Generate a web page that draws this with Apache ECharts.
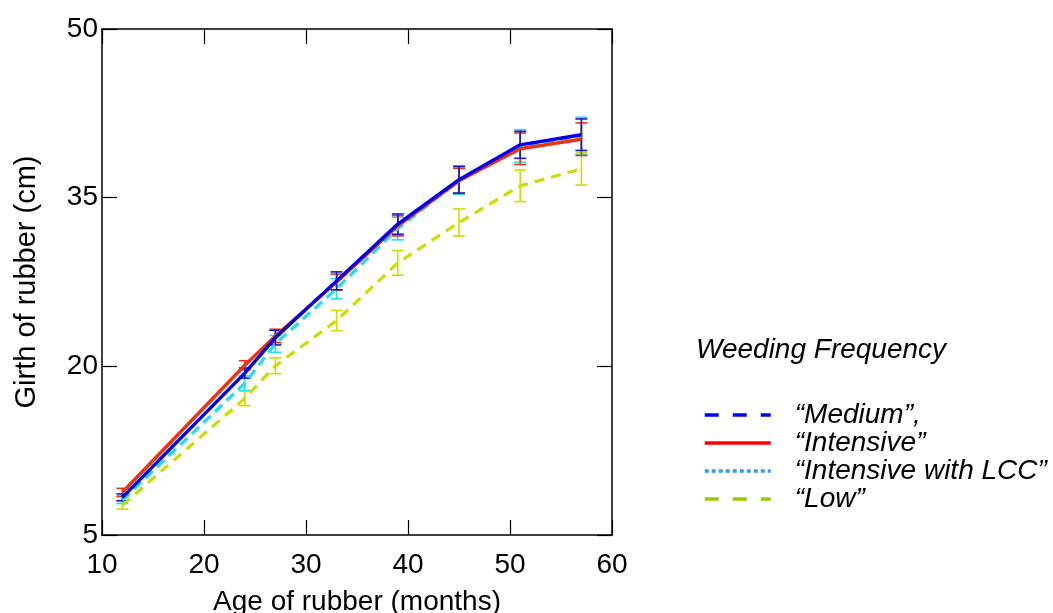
<!DOCTYPE html>
<html>
<head>
<meta charset="utf-8">
<script src="https://cdn.jsdelivr.net/npm/echarts@6/dist/echarts.min.js"></script>
<style>html,body{margin:0;padding:0;background:#fff}#c{width:1053px;height:613px}</style>
</head>
<body>
<div id="c"></div>
<script>
// ---- data ----
var ages = [12, 24, 27, 33, 39, 45, 51, 57];
var mediumVals = [8.35, 19.4, 22.55, 27.6, 32.65, 36.6, 39.7, 40.6];
var mediumErr  = [0.3, 0.45, 0.65, 0.8, 0.9, 1.2, 1.2, 1.4];
var intensiveVals = [8.8, 20.1, 22.7, 27.5, 32.5, 36.5, 39.35, 40.2];
var intensiveErr  = [0.35, 0.4, 0.6, 0.7, 0.9, 1.1, 1.4, 1.45];
var lccVals = [8.1, 18.5, 22.0, 26.9, 32.25, 36.5, 39.6, 40.5];
var lccErr  = [0.3, 0.65, 0.75, 0.9, 1.0, 1.2, 1.45, 1.65];
var lowVals = [7.65, 17.15, 20.05, 24.07, 29.2, 32.8, 36.05, 37.57];
var lowErr  = [0.35, 0.65, 0.7, 0.9, 1.1, 1.2, 1.4, 1.45];
var xTicks = [10, 20, 30, 40, 50, 60];
var yTicks = [5, 20, 35, 50];
var names = ['\u201cMedium\u201d,', '\u201cIntensive\u201d', '\u201cIntensive with LCC\u201d', '\u201cLow\u201d'];
var legendTitle = 'Weeding Frequency';
var xTitle = 'Age of rubber (months)';
var yTitle = 'Girth of rubber (cm)';

function pairs(v) { return ages.map(function (a, i) { return [a, v[i]]; }); }
function errData(v, e) { return ages.map(function (a, i) { return [a, v[i], e[i]]; }); }
function errSeries(v, e, color) {
  return {
    type: 'custom', data: errData(v, e), z: 3,
    renderItem: function (params, api) {
      var x = api.value(0), y = api.value(1), d = api.value(2);
      var t = api.coord([x, y + d]), b = api.coord([x, y - d]);
      var w = 6;
      var st = { stroke: color, lineWidth: 1.6 };
      return { type: 'group', children: [
        { type: 'line', shape: { x1: t[0], y1: t[1], x2: b[0], y2: b[1] }, style: st },
        { type: 'line', shape: { x1: t[0] - w, y1: t[1], x2: t[0] + w, y2: t[1] }, style: st },
        { type: 'line', shape: { x1: b[0] - w, y1: b[1], x2: b[0] + w, y2: b[1] }, style: st }
      ]};
    }
  };
}
function lineSeries(name, v, color, type, width) {
  return { name: name, type: 'line', data: pairs(v), symbol: 'none', z: 4,
    lineStyle: { color: color, width: width, type: type }, itemStyle: { color: color } };
}

var font = 'Liberation Sans, Arial, sans-serif';
var FS = 28;
var axisLine = { show: true, lineStyle: { color: '#000', width: 1.5 } };
var tick = { show: true, inside: true, length: 15, lineStyle: { color: '#000', width: 1.2 } };
var chart = echarts.init(document.getElementById('c'));
chart.setOption({
  animation: false,
  grid: { left: 102, right: 441, top: 29, bottom: 78, containLabel: false, outerBoundsMode: 'none' },
  xAxis: [
    { type: 'value', min: 10, max: 60, interval: 10, position: 'bottom',
      axisLine: axisLine, axisTick: tick, splitLine: { show: false },
      axisLabel: { color: '#000', fontSize: FS, fontFamily: font, margin: 16,
        formatter: function (v) { return xTicks.indexOf(v) >= 0 ? String(v) : ''; } },
      name: xTitle, nameLocation: 'middle', nameGap: 53,
      nameTextStyle: { color: '#000', fontSize: FS, fontFamily: font } },
    { type: 'value', min: 10, max: 60, interval: 10, position: 'top',
      axisLine: axisLine, axisTick: tick, splitLine: { show: false }, axisLabel: { show: false } }
  ],
  yAxis: [
    { type: 'value', min: 5, max: 50, interval: 15, position: 'left',
      axisLine: axisLine, axisTick: tick, splitLine: { show: false },
      axisLabel: { color: '#000', fontSize: FS, fontFamily: font, margin: 4,
        formatter: function (v) { return yTicks.indexOf(v) >= 0 ? String(v) : ''; } },
      name: yTitle, nameLocation: 'middle', nameGap: 61, nameRotate: 90,
      nameTextStyle: { color: '#000', fontSize: 29, fontFamily: font } },
    { type: 'value', min: 5, max: 50, interval: 15, position: 'right',
      axisLine: axisLine, axisTick: tick, splitLine: { show: false }, axisLabel: { show: false } }
  ],
  title: { text: legendTitle, left: 691, top: 331,
    textStyle: { fontSize: FS, fontStyle: 'italic', fontWeight: 'normal', color: '#000', fontFamily: font } },
  legend: {
    orient: 'vertical', left: 698, top: 396, itemWidth: 66, itemHeight: 14, itemGap: 0,
    selectedMode: false, itemStyle: { opacity: 0 },
    textStyle: { fontSize: FS, fontStyle: 'italic', color: '#000', fontFamily: font, lineHeight: 26, padding: [0, 0, 0, 19] },
    data: [
      { name: names[0], lineStyle: { color: '#0000ff', width: 3.5, type: [14, 14] } },
      { name: names[1], lineStyle: { color: '#ff0000', width: 3.5, type: 'solid' } },
      { name: names[2], lineStyle: { color: '#3399ff', width: 3.5, type: [4, 3] } },
      { name: names[3], lineStyle: { color: '#99cc00', width: 3.5, type: [14, 14] } }
    ]
  },
  series: [
    errSeries(lowVals, lowErr, '#ccdd00'),
    lineSeries(names[3], lowVals, '#ccdd00', [10, 7], 3.2),
    errSeries(lccVals, lccErr, '#22e0ee'),
    lineSeries(names[2], lccVals, '#22dded', [10, 6], 3.2),
    errSeries(intensiveVals, intensiveErr, '#ee3311'),
    lineSeries(names[1], intensiveVals, '#ee3311', 'solid', 3.4),
    errSeries(mediumVals, mediumErr, '#1a1acc'),
    lineSeries(names[0], mediumVals, '#0000ee', 'solid', 3.4)
  ]
});
</script>
</body>
</html>
